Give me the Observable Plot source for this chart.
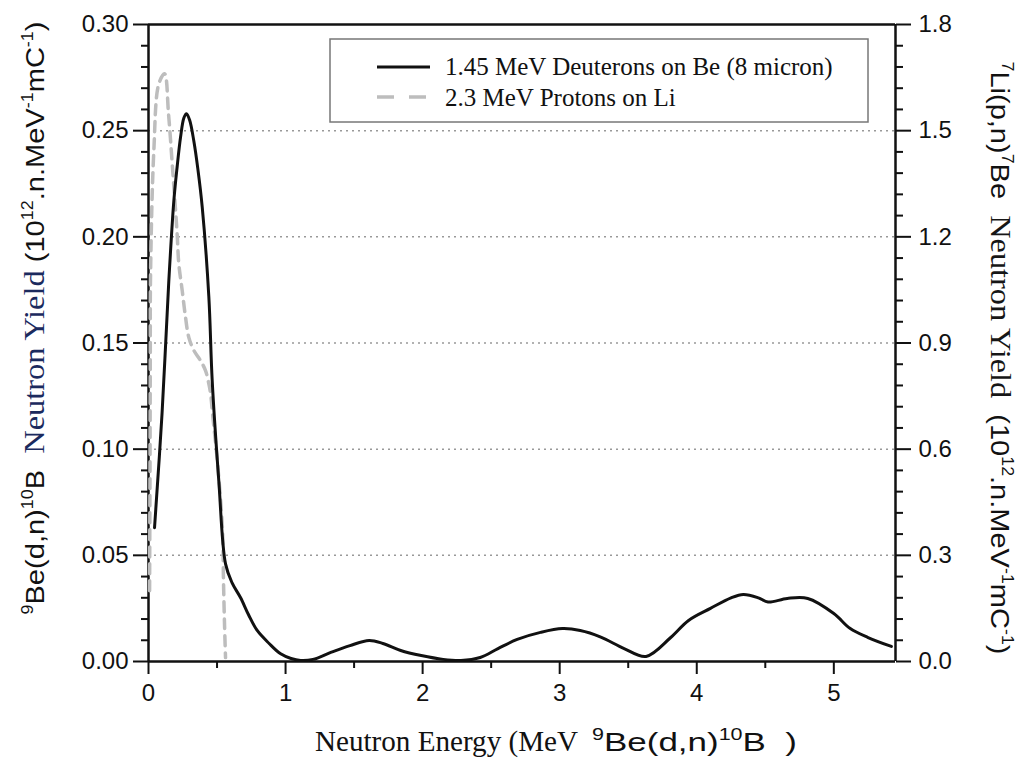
<!DOCTYPE html>
<html><head><meta charset="utf-8">
<script src="https://cdn.jsdelivr.net/npm/d3@7"></script>
<script src="https://cdn.jsdelivr.net/npm/@observablehq/plot@0.6"></script>
<style>body{margin:0;background:#fff;} #chart{width:1021px;height:760px;}</style>
</head><body><div id="chart"></div>
<script>
// 9Be(d,n)10B : 1.45 MeV deuterons on Be (left axis, 1e12 n/MeV/mC)
const deutEnergy = [0.044,0.099,0.148,0.185,0.209,0.234,0.258,0.277,0.300,0.331,0.360,0.392,0.440,0.465,0.513,0.562,0.610,0.672,0.730,0.793,0.880,0.964,1.04,1.11,1.20,1.33,1.47,1.61,1.71,1.84,1.99,2.15,2.28,2.42,2.55,2.69,2.86,3.02,3.15,3.30,3.47,3.63,3.81,3.94,4.10,4.25,4.34,4.45,4.52,4.66,4.81,5.00,5.12,5.25,5.42];
const deutYield  = [0.063,0.117,0.179,0.217,0.233,0.247,0.256,0.258,0.255,0.245,0.232,0.214,0.172,0.132,0.085,0.046,0.037,0.030,0.022,0.0146,0.0085,0.0036,0.0014,0.0005,0.0010,0.0043,0.0075,0.0099,0.0085,0.0052,0.0028,0.0010,0.0005,0.0019,0.0061,0.0104,0.0137,0.0155,0.0146,0.0115,0.0061,0.0024,0.0113,0.0193,0.0250,0.0300,0.0316,0.0300,0.0280,0.0297,0.0297,0.0226,0.0155,0.0113,0.0071];
// 7Li(p,n)7Be : 2.3 MeV protons on Li (right axis, 1e12 n/MeV/mC)
const liEnergy = [0.008,0.011,0.013,0.015,0.039,0.075,0.117,0.146,0.175,0.209,0.221,0.246,0.270,0.294,0.331,0.380,0.416,0.440,0.453,0.467,0.504,0.540,0.547,0.555,0.562];
const liYield  = [0.20,0.55,0.85,1.096,1.444,1.632,1.661,1.548,1.396,1.208,1.124,1.048,0.973,0.916,0.879,0.850,0.822,0.785,0.757,0.701,0.559,0.370,0.229,0.100,0.011];

const leftMax = 0.30, rightMax = 1.8, xMax = 5.45;
const leftTicks = [0, 0.05, 0.10, 0.15, 0.20, 0.25, 0.30];
const rightTickLabels = ["0.0","0.3","0.6","0.9","1.2","1.5","1.8"];
const gridTicks = [0.05, 0.10, 0.15, 0.20, 0.25];
const minorY = d3.range(0, 31).filter(k => k % 5 !== 0).map(k => k / 100);
const xTicks = [0, 1, 2, 3, 4, 5];
const xMinor = [0.5, 1.5, 2.5, 3.5, 4.5];
const legendLabels = ["1.45 MeV Deuterons on Be (8 micron)", "2.3 MeV Protons on Li"];

const ratio = rightMax / leftMax;
const dIdx = d3.range(deutEnergy.length);
const lIdx = d3.range(liEnergy.length);
const SANS = "'Liberation Sans', Arial, Helvetica, sans-serif";
const SERIF = "'Liberation Serif', 'Times New Roman', serif";

const plot = Plot.plot({
  width: 1021, height: 760,
  marginLeft: 148, marginRight: 126, marginTop: 24, marginBottom: 99,
  style: {fontFamily: SANS, fontSize: "24px", color: "#111", background: "#fff", overflow: "visible"},
  x: {domain: [0, xMax]},
  y: {domain: [0, leftMax]},
  marks: [
    Plot.gridY(gridTicks, {stroke: "#999", strokeOpacity: 1, strokeDasharray: "2,4", strokeWidth: 1.5}),
    Plot.axisY({ticks: leftTicks, tickSize: 15, tickPadding: 5, tickFormat: d => d.toFixed(2), label: null, strokeWidth: 2, fontSize: 24}),
    Plot.axisY({ticks: minorY, tickSize: 7, tickFormat: () => "", label: null, strokeWidth: 2}),
    Plot.axisY({anchor: "right", ticks: leftTicks, tickSize: 15, tickPadding: 8, tickFormat: d => rightTickLabels[leftTicks.indexOf(d)], label: null, strokeWidth: 2, fontSize: 24}),
    Plot.axisY({anchor: "right", ticks: minorY, tickSize: 7, tickFormat: () => "", label: null, strokeWidth: 2}),
    Plot.axisX({ticks: xTicks, tickSize: 13, tickPadding: 9, tickFormat: d => String(d), label: null, strokeWidth: 2, fontSize: 24}),
    Plot.axisX({ticks: xMinor, tickSize: 7, tickFormat: () => "", label: null, strokeWidth: 2}),
    Plot.ruleY([0, leftMax], {stroke: "#111", strokeWidth: 2.5}),
    Plot.ruleX([0, xMax], {stroke: "#111", strokeWidth: 2.5}),
    Plot.line(lIdx, {x: i => liEnergy[i], y: i => liYield[i] / ratio, stroke: "#bdbdbd", strokeWidth: 3.5, strokeDasharray: "10,7", curve: "catmull-rom"}),
    Plot.line(dIdx, {x: i => deutEnergy[i], y: i => deutYield[i], stroke: "#111", strokeWidth: 3, strokeLinejoin: "round", curve: "catmull-rom"})
  ]
});
document.getElementById("chart").appendChild(plot);

const svg = d3.select(plot);
function richText(parts, {x, y, rotate = 0, anchor = "middle", size = 26, length = null}) {
  const t = svg.append("text")
    .attr("transform", `translate(${x},${y}) rotate(${rotate})`)
    .attr("text-anchor", anchor)
    .attr("fill", "#111")
    .style("font-family", SANS).style("font-size", size + "px");
  if (length) t.attr("textLength", length).attr("lengthAdjust", "spacingAndGlyphs");
  let shift = 0;
  for (const p of parts) {
    const ts = t.append("tspan").text(p.t);
    if (p.sup) {
      const s = Math.round(size * 0.6);
      ts.style("font-size", s + "px").attr("dy", -size * 0.42 - shift);
      shift = -size * 0.42;
    } else {
      ts.style("font-size", (p.size || size) + "px").attr("dy", -shift);
      shift = 0;
    }
    if (p.font) ts.style("font-family", p.font);
    if (p.fill) ts.attr("fill", p.fill);
  }
  return t;
}

const unitParts = [
  {t: " (10"}, {t: "12", sup: true}, {t: ".n.MeV"}, {t: "-1", sup: true},
  {t: "mC"}, {t: "-1", sup: true}, {t: ")"}
];
richText([
  {t: "9", sup: true}, {t: "Be(d,n)"}, {t: "10", sup: true}, {t: "B  "},
  {t: "Neutron Yield", font: SERIF, size: 29, fill: "#1b2a5e"},
  ...unitParts
], {x: 44, y: 318, rotate: -90, size: 26, length: 593});

richText([
  {t: "7", sup: true}, {t: "Li(p,n)"}, {t: "7", sup: true}, {t: "Be  "},
  {t: "Neutron Yield", font: SERIF, size: 29, fill: "#161616"},
  {t: " "}, ...unitParts
], {x: 991, y: 358, rotate: 90, size: 26, length: 593});

richText([{t: "Neutron Energy (MeV", font: SERIF, size: 29}],
  {x: 315, y: 751, anchor: "start", size: 29, length: 263});
richText([
  {t: "9", sup: true}, {t: "Be(d,n)"}, {t: "10", sup: true}, {t: "B  )"}
], {x: 592, y: 751, anchor: "start", size: 26, length: 205});

// legend
const lg = svg.append("g");
lg.append("rect").attr("x", 330).attr("y", 39).attr("width", 538).attr("height", 83)
  .attr("fill", "#fff").attr("stroke", "#777").attr("stroke-width", 1.5);
lg.append("line").attr("x1", 377).attr("x2", 430).attr("y1", 67).attr("y2", 67)
  .attr("stroke", "#111").attr("stroke-width", 3);
lg.append("line").attr("x1", 377).attr("x2", 430).attr("y1", 97).attr("y2", 97)
  .attr("stroke", "#bdbdbd").attr("stroke-width", 3.5).attr("stroke-dasharray", "17,15");
legendLabels.forEach((s, i) => {
  lg.append("text").attr("x", 445).attr("y", 75 + i * 31).text(s)
    .attr("text-anchor", "start")
    .attr("fill", "#111").style("font-family", SERIF).style("font-size", "25px");
});
</script>
</body></html>
